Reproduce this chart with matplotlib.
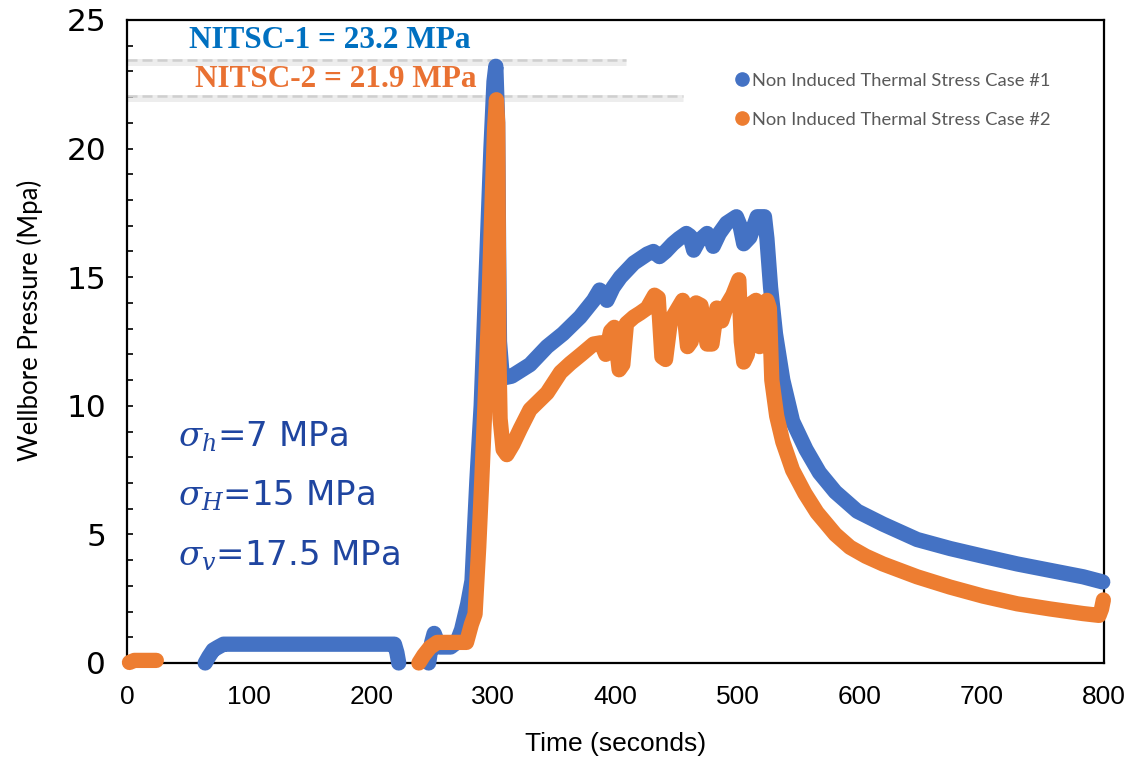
import numpy as np
import matplotlib
matplotlib.use("Agg")
import matplotlib.pyplot as plt
from matplotlib.lines import Line2D
from matplotlib.ticker import MultipleLocator

nan = np.nan

# ---- data (time in seconds, pressure in MPa) ----
time_case1 = [64, 67, 70.5, 74, 79, 100, 150, 200, 219, 221, 222.5, nan,
              247, 249.5, 251.5, 253.5, 256, 265, 270, 274, 279, 282.5, 286.5, 290,
              294, 298, 300.5, 302, 303.5, 304.3, 305, 307, 310, 315, 320, 330, 344,
              357, 371, 382, 387, 390, 393, 398, 404, 415, 426, 431, 436, 441, 447,
              452, 458, 461, 464, 468, 475, 478, 480, 485, 491, 499, 502, 505, 510,
              516, 522, 524, 527, 531, 537, 545, 556, 567, 580, 598, 619, 647, 674,
              701, 729, 756, 783, 799]
pressure_case1 = [0.0, 0.25, 0.5, 0.6, 0.73, 0.73, 0.73, 0.73, 0.73, 0.4, 0.0, nan,
                  0.0, 0.8, 1.15, 0.9, 0.62, 0.62, 0.8, 1.3, 2.3, 3.2, 7.1, 10.0,
                  15.0, 20.0, 22.6, 23.2, 21.0, 16.0, 12.5, 11.3, 11.1, 11.15, 11.3, 11.6, 12.3,
                  12.8, 13.45, 14.1, 14.5, 14.4, 14.1, 14.6, 15.0, 15.55, 15.9, 16.0, 15.8, 16.0, 16.3,
                  16.5, 16.7, 16.6, 16.05, 16.4, 16.7, 16.5, 16.2, 16.7, 17.1, 17.35, 17.0, 16.3, 16.55,
                  17.35, 17.35, 16.5, 14.6, 12.8, 11.0, 9.4, 8.3, 7.4, 6.65, 5.9, 5.4, 4.8, 4.45,
                  4.15, 3.85, 3.6, 3.35, 3.15]

time_case2 = [2, 6, 24, nan,
              239, 243, 248, 254, 265, 278, 282, 285, 288, 290.5, 293, 296, 299, 301,
              302.5, 303.5, 304, 304.5, 305.5, 308, 311, 316, 322, 330, 344, 355, 363,
              372, 382, 388, 392, 396, 399, 403, 406, 409, 415, 420, 426, 432, 435,
              438, 441, 445, 450, 455, 459, 462, 466, 470, 475, 479, 483, 487, 491,
              496, 501, 503, 505, 508, 512, 515, 518, 521, 524, 526, 528, 532, 537,
              545, 555, 565, 580, 592, 605, 619, 647, 674, 701, 729, 756, 783, 796,
              798, 799.5]
pressure_case2 = [0.02, 0.1, 0.1, nan,
                  0.0, 0.3, 0.6, 0.8, 0.8, 0.8, 1.5, 1.9, 4.5, 7.1, 9.9, 13.5, 18.0, 20.8,
                  21.9, 21.0, 17.0, 12.0, 9.5, 8.3, 8.1, 8.5, 9.1, 9.85, 10.5, 11.3, 11.65,
                  12.0, 12.4, 12.45, 12.0, 12.9, 13.05, 11.4, 11.6, 13.2, 13.45, 13.6, 13.8, 14.3, 14.2,
                  11.9, 11.8, 13.3, 13.7, 14.1, 12.3, 12.5, 14.0, 13.9, 12.4, 12.4, 13.8, 13.3, 13.9,
                  14.3, 14.9, 12.5, 11.7, 12.0, 14.0, 14.1, 12.3, 12.6, 14.1, 13.8, 11.0, 9.6, 8.6,
                  7.5, 6.6, 5.85, 5.0, 4.5, 4.15, 3.85, 3.35, 2.95, 2.6, 2.3, 2.1, 1.92, 1.85,
                  2.1, 2.45]

series_labels = ["Non Induced Thermal Stress Case #1", "Non Induced Thermal Stress Case #2"]
nitsc_labels = ["NITSC-1 = 23.2 MPa", "NITSC-2 = 21.9 MPa"]
nitsc_line_levels = [23.45, 22.05]
nitsc_line_ends = [409, 455]
stress_labels = [r"$\sigma_h$=7 MPa", r"$\sigma_H$=15 MPa", r"$\sigma_v$=17.5 MPa"]
x_ticks = [0, 100, 200, 300, 400, 500, 600, 700, 800]
y_ticks = [0, 5, 10, 15, 20, 25]

blue = "#4472C4"
orange = "#ED7D31"

plt.rcParams["mathtext.fontset"] = "dejavuserif"

fig = plt.figure(figsize=(11.28, 7.66), dpi=100)
ax = fig.add_axes([0.1126, 0.1345, 0.8661, 0.8394])

ax.plot(time_case1, pressure_case1, color=blue, lw=11,
        solid_capstyle="round", solid_joinstyle="round", zorder=3, clip_on=False)
ax.plot(time_case2, pressure_case2, color=orange, lw=11,
        solid_capstyle="round", solid_joinstyle="round", zorder=4, clip_on=False)

ax.set_xlim(0, 800)
ax.set_ylim(0, 25)
ax.set_xticks(x_ticks)
ax.set_yticks(y_ticks)
ax.yaxis.set_minor_locator(MultipleLocator(1))
ax.tick_params(axis="y", which="both", direction="in", length=4, width=1.2, pad=15)
ax.tick_params(axis="x", which="both", length=0, pad=16)
for lab in ax.get_yticklabels():
    lab.set_fontfamily("DejaVu Sans")
    lab.set_fontsize(22.5)
for lab in ax.get_xticklabels():
    lab.set_fontfamily(["Liberation Sans Narrow", "Liberation Sans"])
    lab.set_fontsize(19)
for sp in ax.spines.values():
    sp.set_linewidth(1.6)
    sp.set_color("black")
    sp.set_zorder(2.5)

ax.set_xlabel("Time (seconds)", fontsize=19, family=["Liberation Sans Narrow", "Liberation Sans"])
ax.xaxis.set_label_coords(0.5, -0.108)
ax.set_ylabel("Wellbore Pressure (Mpa)", fontsize=18.5, family="Lato")
ax.yaxis.set_label_coords(-0.086, 0.533)

# dashed reference lines with soft shadow
for lvl, xe in zip(nitsc_line_levels, nitsc_line_ends):
    ax.plot([0, xe], [lvl - 0.08, lvl - 0.08], color="#EDEDED", lw=5, zorder=1, solid_capstyle="butt")
    ax.plot([0, xe], [lvl, lvl], color="#CFCFCF", lw=1.8, ls=(0, (4, 2)), zorder=2)

ax.text(166, 24.2, nitsc_labels[0], color="#0070C0", fontsize=22.5, fontweight="bold",
        family="Liberation Serif", ha="center", va="center", zorder=5)
ax.text(171, 22.7, nitsc_labels[1], color="#E97132", fontsize=22.5, fontweight="bold",
        family="Liberation Serif", ha="center", va="center", zorder=5)

for lab, yb in zip(stress_labels, [8.4, 6.1, 3.77]):
    ax.text(41.6, yb, lab, color="#1F45A0", fontsize=24.5, family="DejaVu Sans",
            ha="left", va="baseline", zorder=5)

handles = [Line2D([], [], marker="o", ls="none", color=blue, markersize=9.5),
           Line2D([], [], marker="o", ls="none", color=orange, markersize=9.5)]
leg = ax.legend(handles, series_labels, loc="upper left", bbox_to_anchor=(0.62, 0.918),
                frameon=False, fontsize=13.2, handletextpad=0.05, handlelength=1.0,
                labelspacing=1.25, borderaxespad=0, borderpad=0)
for t in leg.get_texts():
    t.set_color("#595959")
    t.set_fontfamily("Lato")

fig.savefig("out.png", dpi=100)
